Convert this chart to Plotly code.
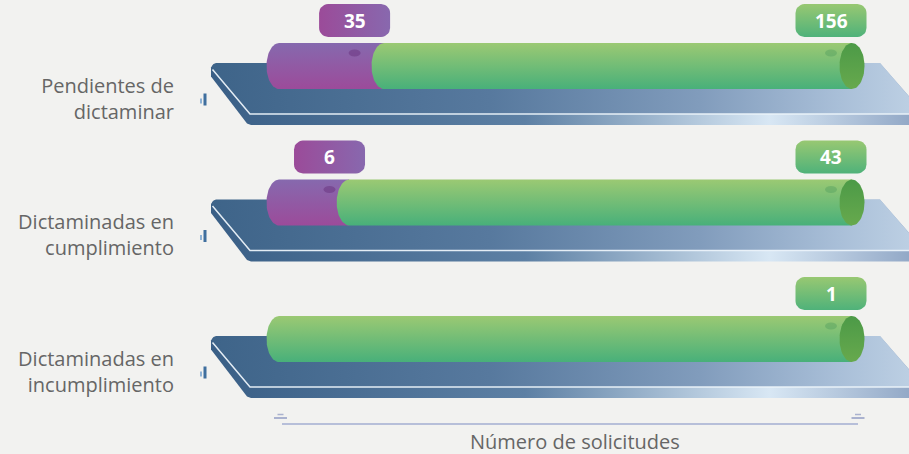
import numpy as np
import plotly.graph_objects as go

# ---------------- data ----------------
categories = ["Pendientes de dictaminar", "Dictaminadas en cumplimiento", "Dictaminadas en incumplimiento"]
tick_labels = ["Pendientes de<br>dictaminar", "Dictaminadas en<br>cumplimiento", "Dictaminadas en<br>incumplimiento"]
series_a_name = "Serie morada"
series_a = [35, 6, 0]
series_b_name = "Serie verde"
series_b = [156, 43, 1]
axis_title = "Número de solicitudes"

# ---------------- layout geometry (pixels) ----------------
FIG_W, FIG_H = 909, 454
M_L, M_R, M_T, M_B = 190, 0, 0, 30
X_ZERO_PX, X_FULL_PX = 279.0, 852.0
ROW0_PX, ROW_STEP = 98.5, 136.5
PXX = X_FULL_PX - X_ZERO_PX
FONT = "Open Sans"


def xd(px):
    return (px - X_ZERO_PX) / PXX


def yo(i, off):
    return i + off / ROW_STEP


x_range = [xd(M_L), xd(FIG_W - M_R)]
y_range = [(FIG_H - M_B - ROW0_PX) / ROW_STEP, (M_T - ROW0_PX) / ROW_STEP]

totals = [a + b for a, b in zip(series_a, series_b)]
frac_a = [a / t for a, t in zip(series_a, totals)]

CAP = 12.5 / PXX
HH = 23 / ROW_STEP
BAR_OFF = -32.5

fig = go.Figure()


def vflip(scale):
    # y axis is reversed: colourscale position 0 is drawn at the bottom
    return [[1 - p, c] for p, c in reversed(scale)]


def poly(xs, ys, grad, name, gtype="vertical", start=None, stop=None):
    if gtype == "vertical":
        grad = vflip(grad)
    fg = dict(type=gtype, colorscale=grad)
    if start is not None:
        fg["start"] = start
        fg["stop"] = stop
    fig.add_trace(go.Scatter(x=xs, y=ys, mode="lines", fill="toself", line=dict(width=0),
                             fillgradient=fg, hoverinfo="skip", showlegend=False, name=name))


# ---------------- slabs (decoration) ----------------
face_pts = [(216, -35.5), (880, -35.5), (924, 15.5), (250, 15.5), (213, -28), (212, -31.5), (213.5, -34.5)]
band_pts = [(213, -34), (880, -35.5), (934, 26.5), (251, 26.5), (247, 25), (211, -22), (211, -31)]
edge_pts = [(212.5, -29), (250, 15.5), (930, 15.5)]
face_scale = [[0, "#3e6489"], [0.4, "#57799e"], [0.7, "#819cbc"], [0.9, "#a9bfd8"], [1, "#bccfe3"]]
band_scale = [[0, "#3a5f86"], [0.45, "#5d80a4"], [0.8, "#d8e7f4"], [1, "#93a9c7"]]
for i in range(len(categories)):
    poly([xd(p[0]) for p in band_pts], [yo(i, p[1]) for p in band_pts], band_scale, "band",
         gtype="horizontal", start=xd(211), stop=xd(909))
    poly([xd(p[0]) for p in face_pts], [yo(i, p[1]) for p in face_pts], face_scale, "face",
         gtype="horizontal", start=xd(211), stop=xd(909))
    fig.add_trace(go.Scatter(x=[xd(p[0]) for p in edge_pts], y=[yo(i, p[1]) for p in edge_pts],
                             mode="lines", line=dict(color="rgba(236,243,250,0.95)", width=1.5),
                             hoverinfo="skip", showlegend=False))

# ---------------- cylinders (data bars) ----------------
purple_scale = [[0, "#8669ae"], [1, "#9c4b9a"]]
green_scale = [[0, "#9bc973"], [1, "#48b07a"]]
cap_scale = [[0, "#4c9a47"], [1, "#67a94d"]]

t = np.linspace(-np.pi / 2, np.pi / 2, 41)
for i in range(len(categories)):
    c = yo(i, BAR_OFF)
    segs = [(0.0, frac_a[i], purple_scale, series_a_name, series_a[i]),
            (frac_a[i], 1.0, green_scale, series_b_name, series_b[i])]
    for a, b, sc, nm, v in segs:
        if v <= 0:
            continue
        xs = list(a - CAP * np.cos(t)) + [b, b]
        ys = list(c + HH * np.sin(t)) + [c + HH, c - HH]
        xs.append(xs[0])
        ys.append(ys[0])
        poly(xs, ys, sc, nm)
    # right end cap
    tt = np.linspace(0, 2 * np.pi, 60)
    poly(list(1.0 + CAP * np.cos(tt)), list(c + HH * np.sin(tt)), cap_scale, "cap")

# ---------------- value label boxes ----------------
BOX_W, BOX_H, BOX_R = 71, 33, 9
BOX_OFF = -78


def rrect():
    pts = []
    w, h, r = BOX_W / 2, BOX_H / 2, BOX_R
    for cx, cy, a0 in [(w - r, -h + r, -np.pi / 2), (w - r, h - r, 0), (-w + r, h - r, np.pi / 2), (-w + r, -h + r, np.pi)]:
        for ang in np.linspace(a0, a0 + np.pi / 2, 8):
            pts.append((cx + r * np.cos(ang), cy + r * np.sin(ang)))
    pts.append(pts[0])
    return pts


box = rrect()
annotations = []
shapes = []


def add_label(xc, i, val, scale, gtype, color_pointer):
    xs = [xc + p[0] / PXX for p in box]
    ys = [yo(i, BOX_OFF + p[1]) for p in box]
    poly(xs, ys, scale, "label", gtype=gtype)
    annotations.append(dict(x=xc, y=i, yshift=-BOX_OFF, xref="x", yref="y", text=f"<b>{val}</b>",
                            showarrow=False, yanchor="middle",
                            font=dict(family=FONT, size=19, color="white")))
    # small pointer under the label
    shapes.append(dict(type="circle", xref="x", yref="y", xsizemode="pixel", ysizemode="pixel",
                       xanchor=xc, yanchor=i, x0=-6, x1=6, y0=42, y1=49, line=dict(width=0),
                       fillcolor=color_pointer))


purple_box = [[0, "#9b4b99"], [1, "#8868ae"]]
green_box = [[0, "#98c872"], [1, "#4fb27a"]]
for i in range(len(categories)):
    if series_a[i] > 0:
        add_label(0.72 * frac_a[i], i, series_a[i], purple_box, "horizontal", "rgba(100,45,120,0.45)")
    if series_b[i] > 0:
        add_label(1.0 - 21 / PXX, i, series_b[i], green_box, "vertical", "rgba(70,150,90,0.35)")

# ---------------- decorations: axis line, ticks ----------------
shapes.append(dict(type="line", xref="x", yref="paper", x0=xd(282), x1=xd(858), y0=0, y1=0,
                   line=dict(color="#b7bfd9", width=2)))
for px in (280.5, 858):
    shapes.append(dict(type="line", xref="x", yref="paper", x0=xd(px - 6.5), x1=xd(px + 6.5),
                       y0=6 / 424, y1=6 / 424, line=dict(color="#aab2cf", width=2)))
    shapes.append(dict(type="line", xref="x", yref="paper", x0=xd(px - 3), x1=xd(px + 3),
                       y0=9.5 / 424, y1=9.5 / 424, line=dict(color="#aab2cf", width=1.5)))
for i in range(len(categories)):
    shapes.append(dict(type="line", xref="x", yref="y", x0=xd(205), x1=xd(205), y0=yo(i, -5), y1=yo(i, 7),
                       line=dict(color="#3f6f9e", width=3)))
    shapes.append(dict(type="line", xref="x", yref="y", x0=xd(201), x1=xd(201), y0=yo(i, 0), y1=yo(i, 5),
                       line=dict(color="#8fb3d6", width=2)))

annotations.append(dict(x=xd(575), y=0, xref="x", yref="paper", yshift=-17, yanchor="middle",
                        text=axis_title, showarrow=False,
                        font=dict(family=FONT, size=20, color="#666666")))

fig.update_layout(
    width=FIG_W, height=FIG_H,
    margin=dict(l=M_L, r=M_R, t=M_T, b=M_B, pad=0),
    paper_bgcolor="#f2f2f0", plot_bgcolor="#f2f2f0",
    showlegend=False,
    xaxis=dict(range=x_range, showgrid=False, zeroline=False, showline=False, showticklabels=False,
               ticks="", automargin=False, fixedrange=True),
    yaxis=dict(range=y_range, showgrid=False, zeroline=False, showline=False,
               tickmode="array", tickvals=list(range(len(categories))), ticktext=tick_labels,
               tickfont=dict(family=FONT, size=20, color="#666666"), ticks="",
               ticklabelstandoff=15, automargin=False, fixedrange=True),
    shapes=shapes, annotations=annotations,
)

fig.write_html("out.html")
